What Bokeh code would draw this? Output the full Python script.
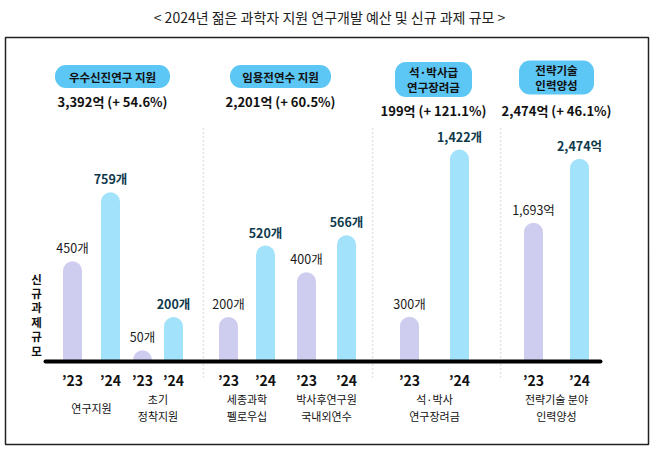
from bokeh.plotting import figure
from bokeh.models import Range1d, ColumnDataSource
from bokeh.core.properties import value
from bokeh.embed import file_html
from bokeh.resources import INLINE

# ---------------- data ----------------
title = "< 2024년 젊은 과학자 지원 연구개발 예산 및 신규 과제 규모 >"
categories = ["연구지원", "초기\n정착지원", "세종과학\n펠로우십", "박사후연구원\n국내외연수",
              "석·박사\n연구장려금", "전략기술 분야\n인력양성"]
v2023 = [450, 50, 200, 400, 300, 1693]
v2024 = [759, 200, 520, 566, 1422, 2474]
units = ["개", "개", "개", "개", "개", "억"]
year_labels = ["’23", "’24"]
programs = ["우수신진연구 지원", "임용전연수 지원", "석·박사급\n연구장려금", "전략기술\n인력양성"]
budgets = [3392, 2201, 199, 2474]          # 억원
growth = [54.6, 60.5, 121.1, 46.1]          # %
y_title = "신규과제규모"

# ---------------- layout (styling only) ----------------
W, H = 650, 447
FONT = value("Noto Sans CJK KR")
C23, C24, PILL = "#cfcdef", "#a3e2fb", "#5cc6f4"
pair_center = [91, 157.5, 246.5, 326, 434, 556]
pair_half = [19, 15.5, 18.5, 20, 25, 23]
scale_name = ["cnt", "cnt", "cnt", "cnt", "cnt2", "won"]
px_per_unit = {"cnt": 0.223, "cnt2": 0.149, "won": 0.082}
BASE = 361  # picture y of baseline
pill_center = [(112, 76), (280, 76), (433, 79), (556, 77)]
pill_size = [(115, 23), (101, 23), (77, 35), (75, 34)]
budget_y = [101, 101, 110, 110]
sep_x = [203, 372, 500]

p = figure(width=W, height=H, output_backend="svg", toolbar_location=None,
           x_range=Range1d(0, W), y_range=Range1d(H, 0),
           x_axis_location=None, y_axis_location=None, min_border=0,
           outline_line_color=None, background_fill_color="white")
p.xgrid.visible = False
p.ygrid.visible = False

below_px = H - BASE
extra = {}
for name, k in px_per_unit.items():
    start = -below_px / k
    extra[name] = Range1d(start, start + H / k)
p.extra_y_ranges = extra

# frame
p.quad(left=[5], right=[648], top=[37], bottom=[444], fill_color=None,
       line_color="#222222", line_width=1.5)

# title
p.text(x=[329], y=[16], text=[title], text_font=FONT, text_font_size="14px",
       text_align="center", text_baseline="middle", text_color="#222222")

# separators
for sx in sep_x:
    p.line(x=[sx, sx], y=[128, 378], line_color="#c8c8c8", line_width=1.5,
           line_dash="1 3")

# pills
for i, prog in enumerate(programs):
    cx, cy = pill_center[i]
    w, h = pill_size[i]
    p.quad(left=[cx - w / 2], right=[cx + w / 2], top=[cy - h / 2], bottom=[cy + h / 2],
           fill_color=PILL, line_color=None, border_radius=11)
    p.text(x=[cx], y=[cy], text=[prog], text_font=FONT, text_font_size="11.5px",
           text_font_style="bold", text_align="center", text_baseline="middle",
           text_color="#111111", text_line_height=0.88)
    p.text(x=[cx], y=[budget_y[i]], text=[f"{budgets[i]:,}억 (+ {growth[i]}%)"],
           text_font=FONT, text_font_size="13px", text_font_style="bold",
           text_align="center", text_baseline="middle", text_color="#111111")

# bars
for name in px_per_unit:
    idx = [i for i in range(len(categories)) if scale_name[i] == name]
    for yi, (vals, col, dx, lab_col, lab_style) in enumerate([
            (v2023, C23, -1, "#1a1a1a", "normal"),
            (v2024, C24, 1, "#103a4c", "bold")]):
        src = ColumnDataSource(dict(
            x=[pair_center[i] + dx * pair_half[i] for i in idx],
            top=[vals[i] for i in idx],
            lab=[f"{vals[i]:,}{units[i]}" for i in idx]))
        p.vbar(x="x", top="top", bottom=0, width=19, source=src, fill_color=col,
               line_color=None, y_range_name=name, border_radius=(10, 10, 0, 0))
        p.text(x="x", y="top", text="lab", source=src, y_range_name=name,
               text_font=FONT, text_font_size="12.5px", text_font_style=lab_style,
               text_align="center", text_baseline="bottom", y_offset=-4,
               text_color=lab_col)

# baseline
p.line(x=[45, 600], y=[BASE, BASE], line_color="black", line_width=4, line_cap="round")

# year labels and category labels
yl_x, yl_t = [], []
for i in range(len(categories)):
    yl_x += [pair_center[i] - pair_half[i], pair_center[i] + pair_half[i]]
    yl_t += year_labels
p.text(x=yl_x, y=[379] * len(yl_x), text=yl_t, text_font=FONT, text_font_size="14px",
       text_font_style="bold", text_align="center", text_baseline="middle",
       text_color="#111111")
p.text(x=pair_center, y=[407] * len(categories), text=categories, text_font=FONT,
       text_font_size="11px", text_align="center", text_baseline="middle",
       text_color="#111111", text_line_height=1.05)

# vertical y label
p.text(x=[36], y=[314], text=["\n".join(y_title)], text_font=FONT,
       text_font_size="11.5px", text_font_style="bold", text_align="center",
       text_baseline="middle", text_color="#111111", text_line_height=0.9)

open("out.html", "w").write(file_html(p, INLINE))
